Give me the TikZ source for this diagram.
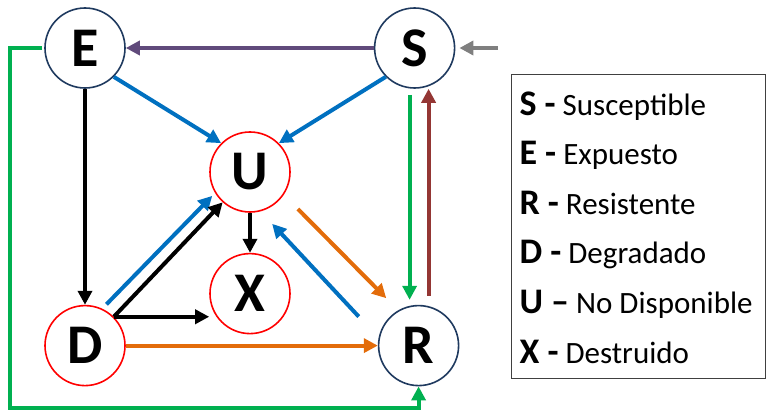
\documentclass[tikz,border=0pt]{standalone}
\usepackage{fontspec}
\setmainfont{Carlito}
\usepackage{xcolor}
\usetikzlibrary{positioning,arrows.meta}
\definecolor{navy}{HTML}{1F3A5F}
\definecolor{sblue}{HTML}{0070C0}
\definecolor{sgreen}{HTML}{00B050}
\definecolor{sorange}{HTML}{E36C0A}
\definecolor{spurple}{HTML}{604A7B}
\definecolor{sbrown}{HTML}{943634}
\definecolor{sgray}{HTML}{7F7F7F}

\begin{document}
\begin{tikzpicture}[
    x=1pt, y=-1pt,
    state/.style={circle, draw=navy, line width=1.6pt, fill=white, minimum size=80pt, inner sep=0pt, font=\fontsize{56}{56}\selectfont\bfseries},
    lost/.style={state, draw=red},
    arrow/.style={-{Triangle[length=14pt,width=14pt]}, line width=4pt},
    legendline/.style={anchor=base west, font=\fontsize{31}{31}\selectfont},
]
\useasboundingbox (0,0) rectangle (769,412);

% States
\node[state] (E) at (85,48) {E};
\node[state, right=248pt of E] (S) {S};
\node[lost, below=216pt of E] (D) {D};
\node[state, right=252pt of D] (R) {R};
\node[lost] (U) at (250,172) {U};
\node[lost, below=40pt of U] (X) {X};

\coordinate (in) at (498,48);
\coordinate (loop) at (10,408);

% Arrows
\draw[arrow, spurple] (S.west) -- (E.east);
\draw[arrow, sgray, shorten >=4pt] (in) -- (S.east);
\draw[arrow, sblue] (E.-45) -- (U.135);
\draw[arrow, sblue] (S.-135) -- (U.45);
\draw[arrow, black] (E.south) -- (D.north);
\draw[arrow, sgreen, shorten <=6pt, shorten >=5pt] ([xshift=-5pt]S.south) -- ([xshift=-5pt]S.south |- R.north);
\draw[arrow, sbrown, shorten <=9pt] ([xshift=10pt]R.north) -- ([xshift=10pt]R.north |- S.south);
\draw[arrow, sgreen, shorten <=2pt] (E.west) -| (loop) -| (R.south);
\draw[arrow, sblue, shorten <=6pt, shorten >=4pt] (D.65) -- (U.211);
\draw[arrow, black] (D.45) -- (U.228);
\draw[arrow, black] (D.45) -- (D.45 -| X.west);
\draw[arrow, black] (U.south) -- (X.north);
\draw[arrow, sorange, shorten <=20pt, shorten >=17pt] (U.-34) -- (R.120);
\draw[arrow, sblue, shorten <=29pt, shorten >=17pt] (R.169) -- (U.-75);
\draw[arrow, sorange] (D.east) -- (R.west);

% Legend
\node[draw=black!75, line width=1pt, minimum width=254pt, minimum height=303pt, inner sep=0pt] (legend) at (638,226.5) {};
\foreach \k/\dash/\name [count=\i] in {S/-/Susceptible, E/-/Expuesto, R/-/Resistente, D/-/Degradado, U/--/No Disponible, X/-/Destruido}
  \node[legendline] (key\k) at (516, 115+49.6*\i-49.6) {{\fontsize{36}{36}\selectfont\bfseries \k\ \dash}\ \name};

\end{tikzpicture}
\end{document}
